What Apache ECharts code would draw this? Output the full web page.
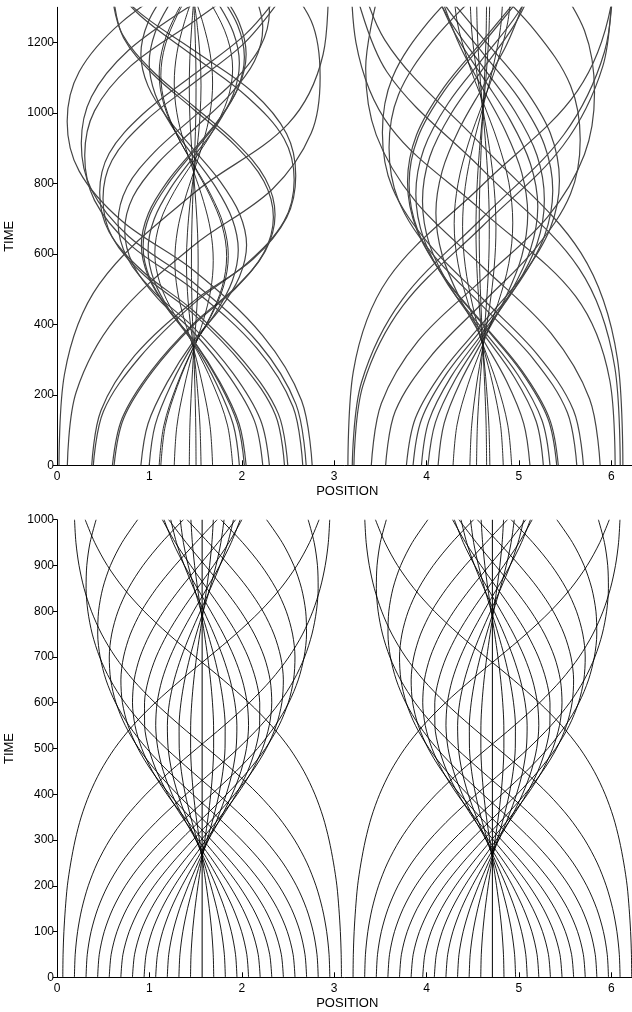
<!DOCTYPE html>
<html><head><meta charset="utf-8">
<script src="https://cdn.jsdelivr.net/npm/echarts@6/dist/echarts.min.js"></script>
<style>html,body{margin:0;padding:0;background:#fff}#chart{width:632px;height:1012px}</style>
</head><body><div id="chart"></div>
<script>
// ---------- axis ticks ----------
const positionTicks = [0, 1, 2, 3, 4, 5, 6];
const positionMax = 6.2832;
const topTimeTicks = [0, 200, 400, 600, 800, 1000, 1200];
const topTimeMax = 1300;
const bottomTimeTicks = [0, 100, 200, 300, 400, 500, 600, 700, 800, 900, 1000];
const bottomTimeMax = 1000;

// ---------- bottom panel: clean oscillations, read every 50 time units ----------
const bottomCentres = [1.5708, 4.7124];
const bottomTimes = [0,50,100,150,200,250,300,350,400,450,500,550,600,650,700,750,800,850,900,950,1000];
// offset from the well centre of the particle that starts right of the centre
const swing01 = [0.1257,0.1200,0.1036,0.0778,0.0451,0.0083,-0.0292,-0.0641,-0.0933,-0.1140,-0.1246,-0.1239,-0.1121,-0.0902,-0.0603,-0.0249,0.0128,0.0492,0.0813,0.1060,0.1213];
const swing02 = [0.2513,0.2404,0.2086,0.1583,0.0940,0.0213,-0.0534,-0.1232,-0.1821,-0.2247,-0.2478,-0.2493,-0.2290,-0.1888,-0.1318,-0.0631,0.0112,0.0847,0.1505,0.2028,0.2373];
const swing03 = [0.3770,0.3614,0.3159,0.2436,0.1502,0.0434,-0.0674,-0.1720,-0.2614,-0.3283,-0.3675,-0.3762,-0.3540,-0.3023,-0.2248,-0.1277,-0.0192,0.0910,0.1931,0.2782,0.3393];
const swing04 = [0.5027,0.4835,0.4269,0.3363,0.2174,0.0795,-0.0655,-0.2046,-0.3258,-0.4196,-0.4796,-0.5024,-0.4870,-0.4340,-0.3464,-0.2299,-0.0935,0.0513,0.1915,0.3149,0.4118];
const swing05 = [0.6283,0.6067,0.5425,0.4380,0.2991,0.1346,-0.0417,-0.2143,-0.3682,-0.4918,-0.5778,-0.6223,-0.6235,-0.5817,-0.4981,-0.3767,-0.2243,-0.0524,0.1242,0.2896,0.4307];
const swing06 = [0.7540,0.7312,0.6632,0.5510,0.3986,0.2140,0.0108,-0.1933,-0.3806,-0.5366,-0.6535,-0.7262,-0.7537,-0.7357,-0.6724,-0.5648,-0.4163,-0.2346,-0.0327,0.1723,0.3621];
const swing07 = [0.8796,0.8572,0.7895,0.6766,0.5193,0.3231,0.1001,-0.1317,-0.3519,-0.5432,-0.6945,-0.8015,-0.8630,-0.8792,-0.8506,-0.7768,-0.6579,-0.4945,-0.2937,-0.0684,0.1627];
const swing08 = [1.0053,0.9846,0.9217,0.8150,0.6630,0.4671,0.2352,-0.0167,-0.2671,-0.4949,-0.6853,-0.8314,-0.9324,-0.9897,-1.0050,-0.9788,-0.9103,-0.7979,-0.6396,-0.4385,-0.2029];
const swing09 = [1.1310,1.1133,1.0593,0.9663,0.8307,0.6501,0.4262,0.1687,-0.1034,-0.3665,-0.5999,-0.7913,-0.9376,-1.0405,-1.1037,-1.1300,-1.1208,-1.0758,-0.9925,-0.8674,-0.6977];
const swing10 = [1.2566,1.2432,1.2017,1.1294,1.0216,0.8737,0.6810,0.4443,0.1732,-0.1128,-0.3890,-0.6341,-0.8365,-0.9937,-1.1096,-1.1890,-1.2367,-1.2560,-1.2483,-1.2130,-1.1476];
const swing11 = [1.3823,1.3738,1.3478,1.3019,1.2324,1.1344,1.0011,0.8270,0.6079,0.3469,0.0575,-0.2369,-0.5110,-0.7473,-0.9390,-1.0876,-1.1982,-1.2779,-1.3325,-1.3659,-1.3810];
const swing12 = [1.5080,1.5051,1.4962,1.4805,1.4588,1.4220,1.3740,1.3095,1.2204,1.1022,0.9476,0.7502,0.5079,0.2279,-0.0715,-0.3647,-0.6283,-0.8497,-1.0261,-1.1624,-1.2657];
const bottomSwings = [swing01,swing02,swing03,swing04,swing05,swing06,swing07,swing08,swing09,swing10,swing11,swing12];

// ---------- top panel: noisy tracks, each a list of positions with its own list of times ----------
const topCentres = [1.48, 4.61];
const topWestX = [
 [0.022,0.080,0.459,1.48,2.501,2.880,2.938],
 [0.112,0.208,0.632,1.48,2.328,2.752,2.848,2.752,2.328],
 [0.376,0.475,0.840,1.48,2.120,2.485,2.584,2.485,2.120,1.48,0.840,0.475],
 [0.393,0.502,0.893,1.48,2.067,2.458,2.567,2.458,2.067,1.48,0.893,0.502],
 [0.600,0.706,1.022,1.48,1.938,2.254,2.360,2.254,1.938,1.48,1.022,0.706,0.600],
 [0.618,0.721,1.032,1.48,1.928,2.239,2.342,2.239,1.928,1.48,1.032,0.721,0.618],
 [0.908,0.985,1.194,1.48,1.766,1.975,2.052,1.975,1.766,1.48,1.194,0.985,0.908,0.985,1.194],
 [0.998,1.063,1.239,1.48,1.721,1.897,1.962,1.897,1.721,1.48,1.239,1.063,0.998,1.063,1.239,1.48],
 [1.106,1.156,1.293,1.48,1.667,1.804,1.854,1.804,1.667,1.48,1.293,1.156,1.106,1.156,1.293,1.48],
 [1.124,1.172,1.302,1.48,1.658,1.788,1.836,1.788,1.658,1.48,1.302,1.172,1.124,1.172,1.302,1.48],
 [1.269,1.297,1.374,1.48,1.586,1.663,1.691,1.663,1.586,1.48,1.374,1.297,1.269,1.297,1.374,1.48],
 [1.432,1.438,1.456,1.48,1.504,1.522,1.528,1.522,1.504,1.48,1.456,1.438,1.432,1.438,1.456,1.48],
 [1.505,1.502,1.493,1.48,1.467,1.458,1.455,1.458,1.467,1.48,1.493,1.502,1.505,1.502,1.493,1.48],
 [1.559,1.548,1.520,1.48,1.440,1.412,1.401,1.412,1.440,1.48,1.520,1.548,1.559,1.548,1.520,1.48],
 [1.684,1.657,1.582,1.48,1.378,1.303,1.276,1.303,1.378,1.48,1.582,1.657,1.684,1.657,1.582,1.48],
 [1.901,1.845,1.691,1.48,1.269,1.115,1.059,1.115,1.269,1.48,1.691,1.845,1.901,1.845,1.691,1.48],
 [1.974,1.908,1.727,1.48,1.233,1.052,0.986,1.052,1.233,1.48,1.727,1.908,1.974,1.908,1.727,1.48],
 [2.028,1.955,1.754,1.48,1.206,1.005,0.932,1.005,1.206,1.48,1.754,1.955,2.028,1.955,1.754],
 [2.047,1.971,1.764,1.48,1.196,0.989,0.913,0.989,1.196,1.48,1.764,1.971,2.047,1.971,1.764],
 [2.227,2.137,1.868,1.48,1.092,0.823,0.733,0.823,1.092,1.48,1.868,2.137,2.227,2.137],
 [2.299,2.201,1.906,1.48,1.054,0.759,0.661,0.759,1.054,1.48,1.906,2.201,2.299,2.201],
 [2.462,2.364,2.010,1.48,0.950,0.596,0.498,0.596,0.950,1.48,2.010,2.364],
 [2.498,2.396,2.030,1.48,0.930,0.564,0.462,0.564,0.930,1.48,2.030,2.396],
 [2.660,2.554,2.164,1.48,0.796,0.406,0.300,0.406,0.796,1.48,2.164],
 [2.697,2.587,2.186,1.48,0.774,0.373,0.263,0.373,0.774,1.48],
 [2.762,2.647,2.224,1.48,0.700,0.240,0.110,0.240,0.700,1.48]
];
const topWestT = [
 [0,257,515,772,969,1166,1362],
 [0,208,416,624,783,943,1102,1261,1421],
 [0,155,311,466,585,703,822,941,1059,1178,1297,1416],
 [0,153,306,459,576,693,810,927,1044,1161,1278,1395],
 [0,134,269,403,506,608,711,814,916,1019,1122,1224,1327],
 [0,133,266,399,501,603,704,806,908,1010,1112,1213,1315],
 [0,118,236,354,444,535,625,715,806,896,986,1077,1167,1257,1348],
 [0,115,231,346,434,523,611,699,788,876,964,1053,1141,1229,1318,1406],
 [0,112,225,337,423,509,595,681,767,853,939,1025,1111,1197,1283,1369],
 [0,112,224,336,422,507,593,679,764,850,936,1021,1107,1193,1278,1364],
 [0,110,219,329,413,497,581,665,749,833,917,1001,1085,1169,1253,1337],
 [0,108,217,325,408,491,574,657,740,823,906,989,1072,1155,1238,1321],
 [0,108,217,325,408,491,574,657,740,823,906,989,1072,1155,1238,1321],
 [0,109,218,327,410,493,577,660,743,827,910,993,1077,1160,1243,1327],
 [0,110,219,329,413,497,581,665,749,833,917,1001,1085,1169,1253,1337],
 [0,114,228,342,429,516,603,690,777,864,951,1038,1125,1212,1299,1386],
 [0,115,231,346,434,523,611,699,788,876,964,1053,1141,1229,1318,1406],
 [0,117,235,352,442,531,621,711,800,890,980,1069,1159,1249,1338],
 [0,118,236,354,444,535,625,715,806,896,986,1077,1167,1257,1348],
 [0,126,251,377,473,570,666,762,858,954,1051,1147,1243,1339],
 [0,130,261,391,491,590,690,790,889,989,1088,1188,1288,1387],
 [0,143,286,429,538,648,757,866,976,1085,1194,1304],
 [0,146,292,438,550,662,774,885,997,1109,1221,1332],
 [0,166,332,498,625,752,879,1006,1133,1260,1387],
 [0,173,345,518,650,782,914,1046,1178,1310],
 [0,184,369,553,694,835,976,1117,1258,1399]
];
const topEastX = [
 [3.149,3.207,3.587,4.61,5.633,6.013,6.071],
 [3.196,3.295,3.733,4.61,5.487,5.925,6.024],
 [3.214,3.312,3.744,4.61,5.476,5.908,6.006],
 [3.402,3.511,3.909,4.61,5.311,5.709,5.818,5.709,5.311],
 [3.557,3.662,4.041,4.61,5.179,5.558,5.663,5.558,5.179,4.61],
 [3.782,3.881,4.179,4.61,5.041,5.339,5.438,5.339,5.041,4.61,4.179],
 [3.854,3.945,4.217,4.61,5.003,5.275,5.366,5.275,5.003,4.61,4.217,3.945],
 [3.945,4.025,4.264,4.61,4.956,5.195,5.275,5.195,4.956,4.61,4.264,4.025],
 [4.016,4.096,4.313,4.61,4.907,5.124,5.204,5.124,4.907,4.61,4.313,4.096],
 [4.125,4.190,4.367,4.61,4.853,5.030,5.095,5.030,4.853,4.61,4.367,4.190],
 [4.287,4.330,4.448,4.61,4.772,4.890,4.933,4.890,4.772,4.61,4.448,4.330,4.287],
 [4.469,4.488,4.539,4.61,4.681,4.732,4.751,4.732,4.681,4.61,4.539,4.488,4.469],
 [4.541,4.550,4.575,4.61,4.645,4.670,4.679,4.670,4.645,4.61,4.575,4.550,4.541],
 [4.650,4.645,4.630,4.61,4.590,4.575,4.570,4.575,4.590,4.61,4.630,4.645,4.650],
 [4.685,4.675,4.648,4.61,4.572,4.545,4.535,4.545,4.572,4.61,4.648,4.675,4.685],
 [4.830,4.801,4.720,4.61,4.500,4.419,4.390,4.419,4.500,4.61,4.720,4.801,4.830],
 [4.921,4.879,4.766,4.61,4.454,4.341,4.299,4.341,4.454,4.61,4.766,4.879,4.921],
 [5.119,5.051,4.865,4.61,4.355,4.169,4.101,4.169,4.355,4.61,4.865,5.051],
 [5.264,5.186,4.950,4.61,4.270,4.034,3.956,4.034,4.270,4.61,4.950,5.186],
 [5.336,5.249,4.988,4.61,4.232,3.971,3.884,3.971,4.232,4.61,4.988,5.249],
 [5.409,5.313,5.025,4.61,4.195,3.907,3.811,3.907,4.195,4.61,5.025],
 [5.426,5.328,5.034,4.61,4.186,3.892,3.794,3.892,4.186,4.61,5.034],
 [5.626,5.524,5.159,4.61,4.061,3.696,3.594,3.696,4.061,4.61],
 [5.698,5.589,5.198,4.61,4.022,3.631,3.522,3.631,4.022,4.61],
 [5.879,5.765,5.346,4.61,3.874,3.455,3.341,3.455],
 [6.041,5.984,5.612,4.61,3.608,3.236,3.179],
 [6.096,6.037,5.650,4.61,3.570,3.183],
 [6.125,6.066,5.671,4.61,3.549,3.156]
];
const topEastT = [
 [0,266,531,797,1063,1328,1594],
 [0,235,469,704,939,1173,1408],
 [0,227,453,680,907,1133,1360],
 [0,176,353,529,705,882,1058,1234,1411],
 [0,154,308,462,616,770,924,1078,1232,1386],
 [0,135,269,404,539,673,808,943,1077,1212,1347],
 [0,130,260,390,520,650,780,910,1040,1170,1300,1430],
 [0,126,251,377,503,628,754,880,1005,1131,1257,1382],
 [0,122,245,367,489,612,734,856,979,1101,1223,1346],
 [0,119,237,356,475,593,712,831,949,1068,1187,1305],
 [0,115,229,344,459,573,688,803,917,1032,1147,1261,1376],
 [0,112,225,337,449,562,674,786,899,1011,1123,1236,1348],
 [0,112,223,335,447,558,670,782,893,1005,1117,1228,1340],
 [0,112,223,335,447,558,670,782,893,1005,1117,1228,1340],
 [0,112,223,335,447,558,670,782,893,1005,1117,1228,1340],
 [0,113,226,339,452,565,678,791,904,1017,1130,1243,1356],
 [0,114,229,343,457,572,686,800,915,1029,1143,1258,1372],
 [0,119,239,358,477,597,716,835,955,1074,1193,1313],
 [0,125,250,375,500,625,750,875,1000,1125,1250,1375],
 [0,128,257,385,513,642,770,898,1027,1155,1283,1412],
 [0,133,266,399,532,665,798,931,1064,1197,1330],
 [0,134,268,402,536,670,804,938,1072,1206,1340],
 [0,150,301,451,601,752,902,1052,1203,1353],
 [0,157,315,472,629,787,944,1101,1259,1416],
 [0,188,375,563,751,938,1126,1314],
 [0,240,480,720,960,1200,1440],
 [0,279,559,838,1117,1397],
 [0,302,603,905,1207,1508]
];

// ---------- build chart ----------
const FONT = '"Liberation Sans", Arial, Helvetica, sans-serif';
const series = [];
const base = { type: 'line', symbol: 'none', showSymbol: false, silent: true, animation: false, clip: true };

bottomCentres.forEach(c => {
  series.push(Object.assign({}, base, { xAxisIndex: 1, yAxisIndex: 1,
    data: [[c, 0], [c, bottomTimeMax]], lineStyle: { color: '#000', width: 1 } }));
  bottomSwings.forEach(sw => {
    [1, -1].forEach(side => {
      series.push(Object.assign({}, base, { xAxisIndex: 1, yAxisIndex: 1, smooth: 0.3,
        data: bottomTimes.map((t, i) => [c + side * sw[i], t]),
        lineStyle: { color: '#000', width: 0.9 } }));
    });
  });
});

[[topWestX, topWestT, topCentres[0]], [topEastX, topEastT, topCentres[1]]].forEach(([xs, ts, c]) => {
  xs.forEach((track, n) => {
    const wide = Math.abs(track[0] - c) > 0.45;
    series.push(Object.assign({}, base, { xAxisIndex: 0, yAxisIndex: 0, smooth: 0.35,
      data: track.map((x, i) => [x, ts[n][i]]),
      lineStyle: wide ? { color: '#454545', width: 1.2 } : { color: '#1a1a1a', width: 0.9 } }));
  });
});

function xAxis(gi) {
  return { type: 'value', gridIndex: gi, min: 0, max: positionMax,
    name: 'POSITION', nameLocation: 'middle', nameGap: 20,
    nameTextStyle: { fontFamily: FONT, fontSize: 13, color: '#000' },
    axisLine: { show: true, onZero: false, lineStyle: { color: '#000', width: 1 } },
    axisTick: { show: true, inside: true, length: 5, customValues: positionTicks, lineStyle: { color: '#000' } },
    axisLabel: { customValues: positionTicks, margin: 5, fontFamily: FONT, fontSize: 12, color: '#000',
      formatter: v => String(v) },
    splitLine: { show: false } };
}
function yAxis(gi, ticks, max) {
  return { type: 'value', gridIndex: gi, min: 0, max: max,
    name: 'TIME', nameLocation: 'middle', nameGap: 29,
    nameTextStyle: { fontFamily: FONT, fontSize: 13, color: '#000' },
    axisLine: { show: true, onZero: false, lineStyle: { color: '#000', width: 1 } },
    axisTick: { show: true, inside: false, length: 4, customValues: ticks, lineStyle: { color: '#000' } },
    axisLabel: { customValues: ticks, margin: 3, fontFamily: FONT, fontSize: 12, color: '#000',
      formatter: v => String(v) },
    splitLine: { show: false } };
}

const chart = echarts.init(document.getElementById('chart'), null, { renderer: 'canvas' });
chart.setOption({
  backgroundColor: '#fff',
  animation: false,
  grid: [
    { left: 57, right: -5.5, top: 7.3, height: 458, containLabel: false, outerBoundsMode: 'none' },
    { left: 57, right: -5.5, top: 519.7, height: 457.6, containLabel: false, outerBoundsMode: 'none' }
  ],
  xAxis: [xAxis(0), xAxis(1)],
  yAxis: [yAxis(0, topTimeTicks, topTimeMax), yAxis(1, bottomTimeTicks, bottomTimeMax)],
  series: series
});
</script></body></html>
